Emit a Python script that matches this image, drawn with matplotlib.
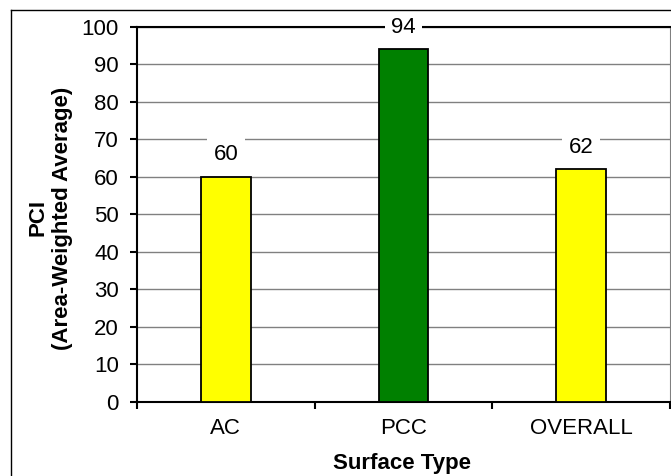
import matplotlib.pyplot as plt
from matplotlib.lines import Line2D

plt.rcParams['font.family'] = ['Liberation Sans', 'DejaVu Sans']

categories = ["AC", "PCC", "OVERALL"]
pci = [60, 94, 62]
bar_colors = ["#FFFF00", "#008000", "#FFFF00"]
yticks = [0, 10, 20, 30, 40, 50, 60, 70, 80, 90, 100]

fig = plt.figure(figsize=(6.71, 4.76), dpi=100)
ax = fig.add_axes([137 / 671, 1 - 401.5 / 476, 533 / 671, 374.5 / 476])

x = list(range(len(categories)))
ax.bar(x, pci, width=0.28, color=bar_colors, edgecolor="black", linewidth=1.3, zorder=3)

for xi, v in zip(x, pci):
    ax.annotate(str(v), (xi, v), xytext=(0, 16), textcoords="offset points",
                ha="center", va="center", fontsize=16, zorder=5,
                bbox=dict(boxstyle="square,pad=0.3", fc="white", ec="none"))

ax.set_xlim(-0.5, 2.5)
ax.set_ylim(0, 100)
ax.set_yticks(yticks)
ax.set_xticks(x)
ax.set_xticklabels(categories)
ax.set_xticks([-0.5, 0.5, 1.5, 2.5], minor=True)
ax.tick_params(axis="x", which="major", length=0, pad=12, labelsize=16)
ax.tick_params(axis="x", which="minor", length=5, width=1.5, direction="out")
ax.tick_params(axis="y", length=5, width=1.5, direction="out", pad=8, labelsize=16)

ax.grid(axis="y", color="#808080", linewidth=1, zorder=0)
ax.set_axisbelow(True)
for s in ["left", "bottom", "top"]:
    ax.spines[s].set_linewidth(1.5)
ax.spines["right"].set_color("#808080")

ax.set_ylabel("PCI\n(Area-Weighted Average)", fontsize=16, fontweight="bold", linespacing=1.2)
ax.yaxis.set_label_coords(-0.12, 0.49)
ax.set_xlabel("Surface Type", fontsize=16, fontweight="bold")
ax.xaxis.set_label_coords(0.497, -0.137)

# chart area border (cut off on the right and bottom)
fig.add_artist(Line2D([11 / 671, 11 / 671], [0, 1 - 10 / 476], color="black", linewidth=1))
fig.add_artist(Line2D([11 / 671, 1], [1 - 10 / 476, 1 - 10 / 476], color="black", linewidth=1))

fig.savefig("out.png", dpi=100)
